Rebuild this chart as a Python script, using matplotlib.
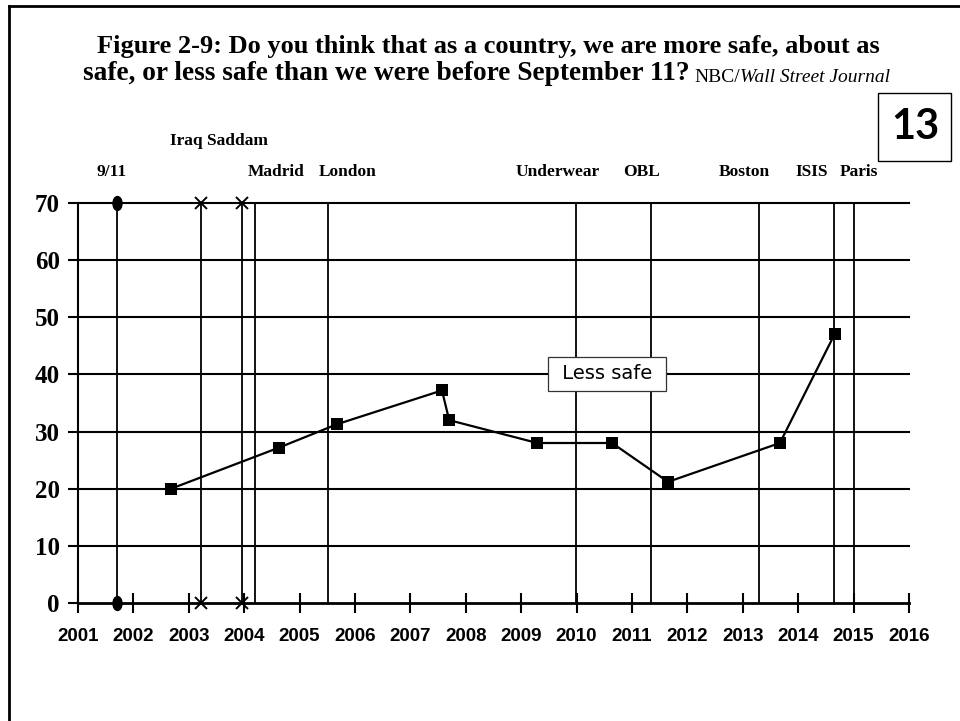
import matplotlib
matplotlib.use("Agg")
import matplotlib.pyplot as plt
from matplotlib.lines import Line2D
from matplotlib.patches import Rectangle
from matplotlib.path import Path

# poll dates (decimal year) and share answering "less safe"
poll_dates = [2002.68, 2004.63, 2005.68, 2007.57, 2007.70, 2009.29,
              2010.64, 2011.65, 2013.67, 2014.66]
less_safe = [20, 27.2, 31.3, 37.2, 32.0, 28, 28, 21.2, 28, 47.1]

# events marked with vertical lines
event_dates = [2001.70, 2003.22, 2003.96, 2004.19, 2005.52, 2009.99,
               2011.34, 2013.29, 2014.65, 2015.00]
event_markers = ["o", "x", "x", None, None, None, None, None, None, None]

row1_labels = ["9/11", "Madrid", "London", "Underwear", "OBL", "Boston", "ISIS", "Paris"]
row1_label_x = [2001.61, 2004.57, 2005.86, 2009.66, 2011.18, 2013.02, 2014.25, 2015.10]
row2_labels = ["Iraq Saddam"]
row2_label_x = [2003.55]

years = list(range(2001, 2017))
y_ticks = [0, 10, 20, 30, 40, 50, 60, 70]

SERIF = ["Liberation Serif", "DejaVu Serif"]
NARROW = ["Liberation Sans Narrow", "Liberation Sans", "DejaVu Sans"]

# tall oval marker for the 9/11 line ends
_circ = Path.unit_circle()
OVAL = Path(_circ.vertices * [0.65, 1.0], _circ.codes)

W, H = 960, 721
fig = plt.figure(figsize=(W / 100, H / 100), dpi=100)
ax = fig.add_axes([78 / W, 1 - 603 / H, (909 - 78) / W, (603 - 203) / H])
ax.set_xlim(2001, 2016)
ax.set_ylim(0, 70)

# horizontal grid lines
for y in y_ticks[1:]:
    ax.plot([2001, 2016], [y, y], color="black", lw=1.5, clip_on=False, zorder=1)

# event lines with end markers
for d, m in zip(event_dates, event_markers):
    ax.plot([d, d], [0, 70], color="black", lw=1.3, clip_on=False, zorder=1)
    if m == "o":
        ax.plot([d, d], [0, 70], ls="none", marker=OVAL, ms=10, color="black",
                clip_on=False, zorder=3)
    elif m == "x":
        ax.plot([d, d], [0, 70], ls="none", marker="x", ms=8, mew=1.4,
                color="black", clip_on=False, zorder=3)

ax.plot(poll_dates, less_safe, color="black", lw=1.6, marker="s", ms=8,
        markeredgewidth=0, zorder=4)

ax.text(2010.55, 40.1, " Less safe ", fontsize=14, family="DejaVu Sans",
        ha="center", va="center", zorder=5,
        bbox=dict(boxstyle="square,pad=0.4", fc="white", ec="#333333", lw=0.9))

for lab, x in zip(row1_labels, row1_label_x):
    ax.text(x, 75.4, lab, ha="center", va="center", fontsize=12.5,
            family=SERIF, weight="bold", clip_on=False)
for lab, x in zip(row2_labels, row2_label_x):
    ax.text(x, 80.9, lab, ha="center", va="center", fontsize=12.5,
            family=SERIF, weight="bold", clip_on=False)

for s in ["top", "right"]:
    ax.spines[s].set_visible(False)
ax.spines["left"].set_linewidth(1.5)
ax.spines["bottom"].set_linewidth(2)

ax.set_xticks(years)
ax.set_xticklabels([str(y) for y in years], family=NARROW, weight="bold", fontsize=13.5)
ax.set_yticks(y_ticks)
ax.set_yticklabels([str(y) for y in y_ticks], family=SERIF, weight="bold", fontsize=18)
ax.tick_params(axis="x", direction="inout", length=14, width=1.5, pad=11)
ax.tick_params(axis="y", direction="out", length=7, width=1.5, pad=6)

# title
fig.text(488 / W, 1 - 53 / H,
         "Figure 2-9: Do you think that as a country, we are more safe, about as",
         ha="center", va="baseline", family=SERIF, weight="bold", fontsize=19)
t1 = fig.text(83 / W, 1 - 80 / H,
              "safe, or less safe than we were before September 11?",
              ha="left", va="baseline", family=SERIF, weight="bold", fontsize=19.7)
t2 = ax.annotate("NBC/", xy=(1, 0), xycoords=t1, xytext=(5, 0),
                 textcoords="offset pixels", ha="left", va="bottom",
                 family=SERIF, fontsize=14)
ax.annotate("Wall Street Journal", xy=(1, 0), xycoords=t2, ha="left", va="bottom",
            family=SERIF, style="italic", fontsize=14)

# slide number box
fig.add_artist(Rectangle((878 / W, 1 - 161 / H), 73 / W, 68 / H,
                         transform=fig.transFigure, fill=False, ec="black", lw=1))
fig.text(915 / W, 1 - 127 / H, "13", ha="center", va="center",
         family=["Lato", "DejaVu Sans"], weight="bold", fontsize=30)

# slide frame
fig.add_artist(Line2D([8.5 / W, 8.5 / W], [0, 1 - 6 / H], color="black", lw=2,
                      transform=fig.transFigure))
fig.add_artist(Line2D([8.5 / W, 1], [1 - 6 / H, 1 - 6 / H], color="black", lw=2,
                      transform=fig.transFigure))

fig.savefig("out.png", dpi=100)
